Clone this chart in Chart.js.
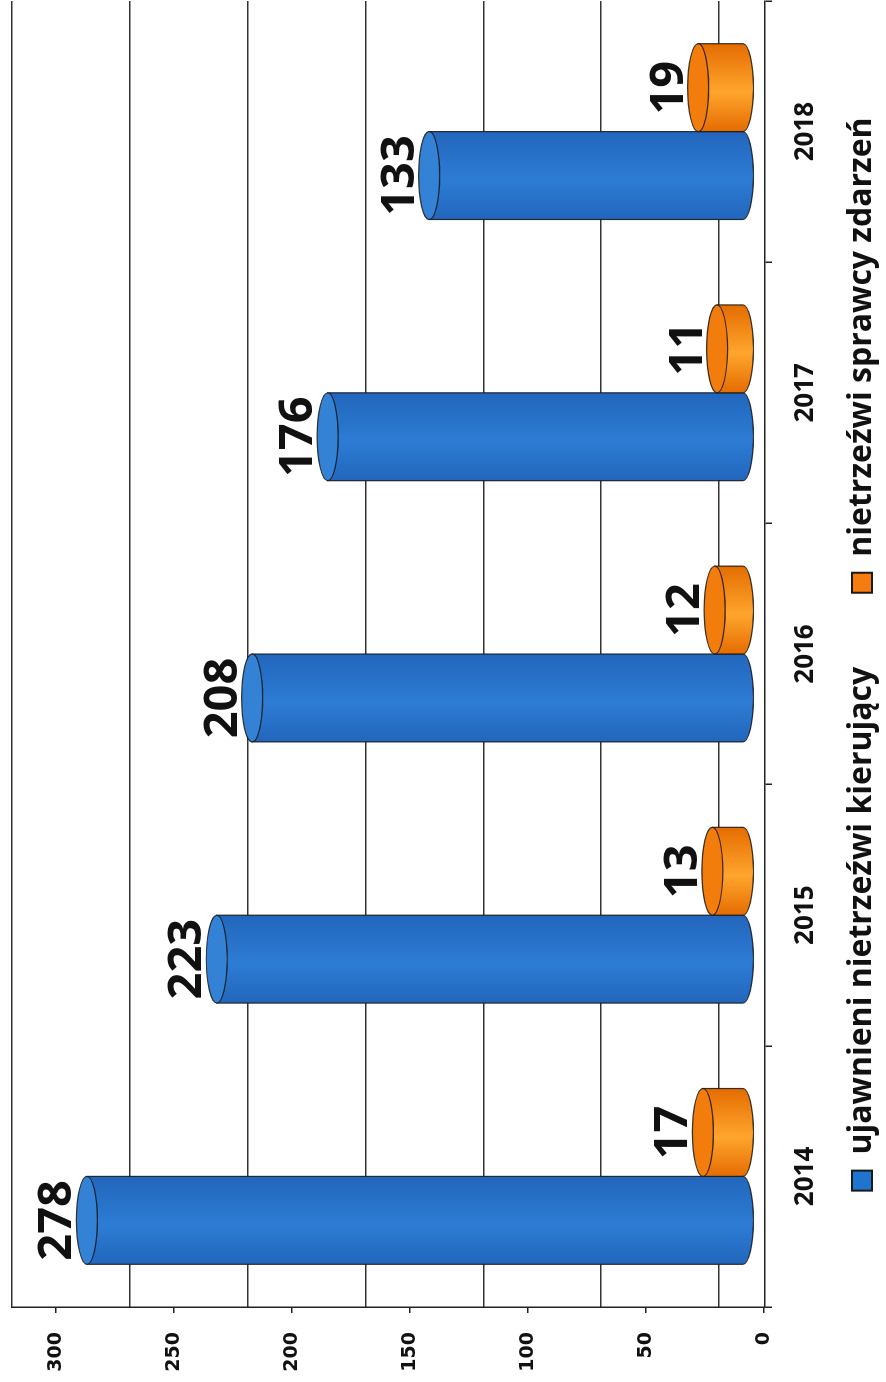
<!DOCTYPE html>
<html>
<head>
<meta charset="utf-8">
<script src="https://cdn.jsdelivr.net/npm/chart.js@4.4.1/dist/chart.umd.min.js"></script>
<style>
    html, body { margin: 0; padding: 0; background: #fff; overflow: hidden; }
    body { width: 886px; height: 1382px; position: relative; }
    /* chart is drawn landscape and turned a quarter turn left */
    #wrap {
        position: absolute; left: 0; top: 0;
        width: 1382px; height: 886px;
        transform-origin: top left;
        transform: translateY(1382px) rotate(-90deg);
    }
</style>
</head>
<body>
<div id="wrap"><canvas id="chart" width="1382" height="886"></canvas></div>
<script>
const years = ['2014', '2015', '2016', '2017', '2018'];
const drunkDrivers = [278, 223, 208, 176, 133];
const drunkPerpetrators = [17, 13, 12, 11, 19];
const valueTicks = [0, 50, 100, 150, 200, 250, 300];

const seriesNames = ['ujawnieni nietrzeźwi kierujący', 'nietrzeźwi sprawcy zdarzeń'];

// body gradient stops and cap colour per series
const cylinderColors = [
    { edge: '#2266bc', mid: '#2d7cd4', cap: '#3382d6' },
    { edge: '#e46c00', mid: '#ffa52e', cap: '#f27c0c' }
];

// draws each bar as a small 3d cylinder with its value on top
const cylinderPlugin = {
    id: 'cylinders',
    afterLayout(chart) {
        // wide item gap means big padding, so pull the legend box up under the years
        chart.legend.top = chart.scales.x.top + 7;
    },
    afterDatasetsDraw(chart) {
        const ctx = chart.ctx;
        chart.data.datasets.forEach((dataset, i) => {
            const meta = chart.getDatasetMeta(i);
            const colors = cylinderColors[i];
            meta.data.forEach((bar, j) => {
                const { x, y, base, width } = bar.getProps(['x', 'y', 'base', 'width'], true);
                const rx = width / 2;
                const ry = 10.5;

                const grad = ctx.createLinearGradient(x - rx, 0, x + rx, 0);
                grad.addColorStop(0, colors.edge);
                grad.addColorStop(0.45, colors.mid);
                grad.addColorStop(1, colors.edge);

                ctx.save();
                ctx.lineWidth = 1.2;
                ctx.strokeStyle = 'rgba(25,25,25,0.85)';

                // body with rounded base
                ctx.beginPath();
                ctx.moveTo(x - rx, y);
                ctx.lineTo(x - rx, base);
                ctx.ellipse(x, base, rx, ry, 0, Math.PI, 0, true);
                ctx.lineTo(x + rx, y);
                ctx.closePath();
                ctx.fillStyle = grad;
                ctx.fill();
                ctx.stroke();

                // top face
                ctx.beginPath();
                ctx.ellipse(x, y, rx, ry, 0, 0, Math.PI * 2);
                ctx.fillStyle = colors.cap;
                ctx.fill();
                ctx.stroke();

                // value label
                ctx.fillStyle = '#111';
                ctx.font = 'bold 47px "Open Sans"';
                ctx.textAlign = 'center';
                ctx.textBaseline = 'alphabetic';
                ctx.fillText(String(dataset.data[j]), x, y - ry - 5);
                ctx.restore();
            });
        });
    }
};

const canvas = document.querySelector('#chart');

const chart = new Chart(canvas, {
    type: 'bar',
    data: {
        labels: years,
        datasets: [
            {
                label: seriesNames[0],
                data: drunkDrivers,
                backgroundColor: '#1f74d0',
                borderColor: '#1a1a1a',
                borderWidth: 2,
                yAxisID: 'y'
            },
            {
                label: seriesNames[1],
                data: drunkPerpetrators,
                backgroundColor: '#f77c10',
                borderColor: '#1a1a1a',
                borderWidth: 2,
                yAxisID: 'y'
            }
        ]
    },
    options: {
        responsive: false,
        animation: false,
        devicePixelRatio: 1,
        categoryPercentage: 0.673,
        barPercentage: 1.0,
        layout: {
            padding: { top: 12, right: 1, left: 0, bottom: 0 }
        },
        scales: {
            x: {
                type: 'category',
                offset: true,
                grid: {
                    offset: true,
                    drawOnChartArea: false,
                    tickLength: 7,
                    color: '#222',
                    lineWidth: 1.5
                },
                border: { display: true, color: '#222', width: 1.5 },
                ticks: {
                    color: '#111',
                    padding: 18,
                    maxRotation: 0,
                    font: { family: '"Open Sans"', size: 26, weight: 'bold' }
                },
                afterFit(scale) { scale.height = 60; }
            },
            // bars sit half way into the depth of the plot
            y: {
                display: false,
                min: -9.32,
                max: 309.75
            },
            // front axis with the value labels
            yt: {
                position: 'left',
                min: -0.42,
                max: 318.65,
                afterBuildTicks(scale) {
                    scale.ticks = valueTicks.map(v => ({ value: v }));
                },
                grid: {
                    drawOnChartArea: false,
                    tickLength: 6,
                    color: '#222',
                    lineWidth: 1.5
                },
                border: { display: true, color: '#222', width: 1.5 },
                ticks: {
                    color: '#111',
                    padding: 19,
                    font: { family: '"DejaVu Sans"', size: 19, weight: 'bold' }
                },
                afterFit(scale) {
                    scale.width = 75;
                    scale.paddingTop = 0;
                    scale.paddingBottom = 0;
                }
            },
            // back wall gridlines
            yg: {
                position: 'right',
                min: -19.52,
                max: 300,
                afterBuildTicks(scale) {
                    scale.ticks = valueTicks.map(v => ({ value: v }));
                },
                grid: {
                    drawTicks: false,
                    color: '#333',
                    lineWidth: 1.5
                },
                border: { display: false },
                ticks: { display: false },
                afterFit(scale) {
                    scale.width = 0;
                    scale.paddingTop = 0;
                    scale.paddingBottom = 0;
                }
            }
        },
        plugins: {
            legend: {
                position: 'bottom',
                fullSize: false,
                maxHeight: 61,
                labels: {
                    boxWidth: 20,
                    boxHeight: 20,
                    padding: 74,
                    color: '#111',
                    font: { family: '"Open Sans"', size: 32, weight: 'bold' }
                }
            },
            tooltip: { enabled: false }
        }
    },
    plugins: [cylinderPlugin]
});
</script>
</body>
</html>
